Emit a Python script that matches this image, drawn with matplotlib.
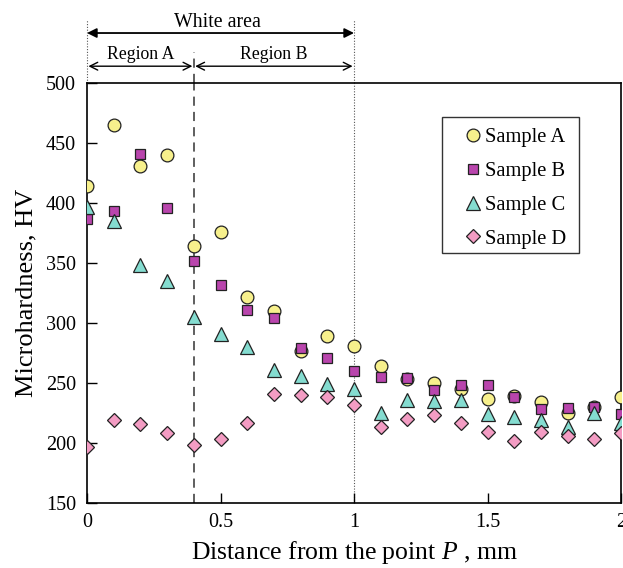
import matplotlib
matplotlib.use("Agg")
import matplotlib.pyplot as plt
from matplotlib.patches import Rectangle

x = [0.0, 0.1, 0.2, 0.3, 0.4, 0.5, 0.6, 0.7, 0.8, 0.9, 1.0,
     1.1, 1.2, 1.3, 1.4, 1.5, 1.6, 1.7, 1.8, 1.9, 2.0]
sample_a = [414, 465, 431, 440, 364, 376, 322, 310, 277, 289, 281,
            264, 253, 250, 245, 237, 239, 234, 225, 230, 238]
sample_b = [387, 393, 441, 396, 352, 332, 311, 304, 279, 271, 260,
            255, 254, 244, 248, 248, 238, 228, 229, 230, 224]
sample_c = [397, 385, 348, 335, 305, 291, 280, 261, 256, 249, 245,
            225, 236, 235, 236, 224, 222, 219, 213, 225, 217]
sample_d = [197, 219, 216, 208, 198, 203, 217, 241, 240, 238, 232,
            213, 220, 223, 217, 209, 202, 209, 206, 203, 208]
labels = ["Sample A", "Sample B", "Sample C", "Sample D"]
xticks = [0, 0.5, 1, 1.5, 2]
xtick_labels = ["0", "0.5", "1", "1.5", "2"]
yticks = [150, 200, 250, 300, 350, 400, 450, 500]

plt.rcParams['font.family'] = ['Liberation Serif', 'DejaVu Serif']
plt.rcParams['mathtext.fontset'] = 'custom'
plt.rcParams['mathtext.it'] = 'Liberation Serif:italic'
plt.rcParams['mathtext.rm'] = 'Liberation Serif'

fig = plt.figure(figsize=(6.23, 5.68), dpi=100)
ax = fig.add_axes([87/623, 1-503/568, (621-87)/623, 420/568])

ec = '#222222'
ax.plot(x, sample_a, 'o', ms=9.2, mfc='#f7f08c', mec=ec, mew=0.9, label=labels[0], zorder=3)
ax.plot(x, sample_b, 's', ms=7, mfc='#b945ad', mec=ec, mew=0.9, label=labels[1], zorder=4)
ax.plot(x, sample_c, '^', ms=10, mfc='#84dcd0', mec=ec, mew=0.9, label=labels[2], zorder=5)
ax.plot(x, sample_d, 'D', ms=7.3, mfc='#f39cc3', mec=ec, mew=0.9, label=labels[3], zorder=6)

ax.set_xlim(0, 2)
ax.set_ylim(150, 500)
ax.set_xticks(xticks)
ax.set_xticklabels(xtick_labels)
ax.set_yticks(yticks)
ax.tick_params(direction='in', length=7, width=1, labelsize=14.5)
ax.tick_params(axis='y', pad=8)
ax.tick_params(axis='x', pad=7)
for s in ax.spines.values():
    s.set_linewidth(1.2)

ax.set_xlabel('Distance from the point $P$ , mm', fontsize=18.5, labelpad=5)
ax.set_ylabel('Microhardness, HV', fontsize=19, labelpad=6)

# boundary lines
ax.axvline(0.4, color='#333333', lw=1.1, ls=(0, (6, 4)), zorder=1)
ax.axvline(1.0, color='#555555', lw=0.8, ls=(0, (1, 1.5)), zorder=1)
tr = ax.get_xaxis_transform()
ax.plot([0, 0], [1.0, 1.15], transform=tr, color='#555555', lw=0.8, ls=(0, (1, 1.5)), clip_on=False)
ax.plot([1, 1], [1.0, 1.15], transform=tr, color='#555555', lw=0.8, ls=(0, (1, 1.5)), clip_on=False)
ax.plot([0.4, 0.4], [1.0, 1.074], transform=tr, color='#333333', lw=1.1, ls=(0, (6, 4)), clip_on=False)

# annotation arrows
ax.annotate('', xy=(0, 1.119), xytext=(1, 1.119), xycoords=tr, textcoords=tr,
            arrowprops=dict(arrowstyle='<|-|>', color='black', lw=1.3,
                            mutation_scale=14, shrinkA=0, shrinkB=0))
ax.text(0.49, 1.133, 'White area', transform=tr, ha='center', va='baseline', fontsize=14.3)
ax.annotate('', xy=(0, 1.04), xytext=(0.4, 1.04), xycoords=tr, textcoords=tr,
            arrowprops=dict(arrowstyle='<->', color='black', lw=1.0,
                            mutation_scale=14, shrinkA=1, shrinkB=1))
ax.annotate('', xy=(0.4, 1.04), xytext=(1, 1.04), xycoords=tr, textcoords=tr,
            arrowprops=dict(arrowstyle='<->', color='black', lw=1.0,
                            mutation_scale=14, shrinkA=1, shrinkB=1))
ax.text(0.2, 1.057, 'Region A', transform=tr, ha='center', va='baseline', fontsize=12.8)
ax.text(0.7, 1.057, 'Region B', transform=tr, ha='center', va='baseline', fontsize=12.8)

# legend frame
frame = Rectangle((355/534, 1-170/420), 137/534, 136/420, transform=ax.transAxes,
                  facecolor='white', edgecolor='#333333', lw=1.0, zorder=7)
ax.add_patch(frame)
leg = ax.legend(loc='upper left', bbox_to_anchor=(370/534, 1-37/420), fontsize=14.8,
                frameon=False, handlelength=0.8, handletextpad=0.18, labelspacing=0.7,
                borderpad=0.38, borderaxespad=0)
leg.set_zorder(8)

fig.savefig('out.png', dpi=100)
